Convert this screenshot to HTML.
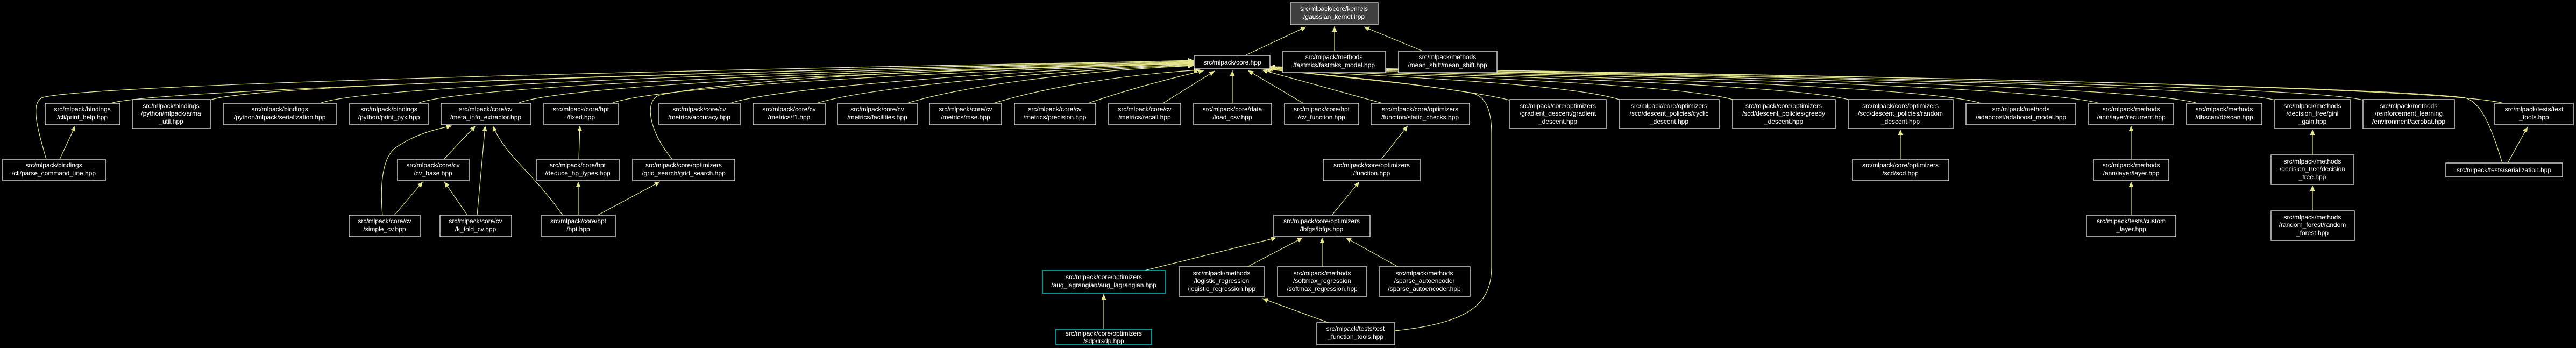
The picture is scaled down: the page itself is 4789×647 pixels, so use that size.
<!DOCTYPE html>
<html><head><meta charset="utf-8"><style>
html,body{margin:0;padding:0;background:#000;}
svg{display:block;}
text{font-family:"Liberation Sans",sans-serif;font-size:12px;fill:#fff;text-anchor:middle;}
.n{fill:#000;stroke:#d0d0d0;stroke-width:1.5;}
.c{fill:#000;stroke:#00c8c8;stroke-width:1.5;}
.g{fill:#404040;stroke:#c8c8c8;stroke-width:1.5;}
.e{fill:none;stroke:#e6e68c;stroke-width:1.2;marker-end:url(#a);}
</style></head><body>
<svg width="4789" height="647" viewBox="0 0 4789 647" xmlns="http://www.w3.org/2000/svg">
<defs><marker id="a" markerUnits="userSpaceOnUse" markerWidth="11" markerHeight="9" refX="10" refY="4.5" orient="auto"><path d="M0,0 L10,4.5 L0,9 z" fill="#e6e68c"/></marker></defs>
<rect width="4789" height="647" fill="#000"/>

<!-- edges -->
<path class="e" d="M2317 102 L2428 50"/>
<path class="e" d="M2481 95 L2481 49"/>
<path class="e" d="M2645 95 L2536 50"/>

<path class="e" d="M206 192 C300 160, 1900 120, 2219 112"/>
<path class="e" d="M391 186 C480 150, 1900 122, 2219 114"/>
<path class="e" d="M595 192 C700 150, 1900 124, 2219 115"/>
<path class="e" d="M777 192 C880 150, 1950 125, 2219 116"/>
<path class="e" d="M963 192 C1060 150, 1950 126, 2219 117"/>
<path class="e" d="M1137 192 C1230 155, 1950 127, 2219 118"/>
<path class="e" d="M86 296 C70 240, 55 190, 80 181 C200 150, 1900 118, 2219 113"/>
<path class="e" d="M1250 296 C1210 250, 1195 190, 1225 177 C1400 140, 1950 122, 2219 119"/>
<path class="e" d="M1357 192 C1450 160, 1950 128, 2219 120"/>
<path class="e" d="M1518 192 C1620 160, 1980 130, 2219 121"/>
<path class="e" d="M1686 192 C1790 160, 2000 132, 2219 122"/>
<path class="e" d="M1847 192 C1950 160, 2100 138, 2230 130"/>
<path class="e" d="M2023 192 C2100 165, 2180 145, 2238 131"/>
<path class="e" d="M2162 192 L2258 132"/>
<path class="e" d="M2291 192 L2291 131"/>
<path class="e" d="M2423 192 L2320 131"/>
<path class="e" d="M2570 192 L2346 130"/>
<path class="e" d="M2806 186 C2700 160, 2450 140, 2352 128"/>
<path class="e" d="M3010 185 C2900 150, 2450 138, 2354 128"/>
<path class="e" d="M3221 185 C3100 150, 2450 136, 2356 127"/>
<path class="e" d="M3436 185 C3300 150, 2450 134, 2357 127"/>
<path class="e" d="M3683 192 C3550 150, 2500 134, 2358 126"/>
<path class="e" d="M3903 192 C3750 150, 2500 132, 2358 126"/>
<path class="e" d="M4085 192 C3950 150, 2500 130, 2359 125"/>
<path class="e" d="M4229 186 C4100 150, 2500 130, 2359 125"/>
<path class="e" d="M4393 186 C4250 150, 2500 130, 2360 125"/>
<path class="e" d="M4654 192 C4500 150, 2500 128, 2360 124"/>
<path class="e" d="M4652 303 C4630 230, 4610 185, 4578 181 C4300 150, 2500 128, 2360 124"/>
<path class="e" d="M2593 615 C2740 600, 2773 560, 2773 495 L2773 250 C2773 200, 2760 178, 2736 173 C2600 150, 2420 135, 2350 128"/>

<path class="e" d="M111 296 L140 234"/>
<path class="e" d="M711 400 C705 330, 715 290, 735 275 C770 250, 810 240, 840 234"/>
<path class="e" d="M733 400 L786 338"/>
<path class="e" d="M869 400 L826 338"/>
<path class="e" d="M887 400 L902 234"/>
<path class="e" d="M1046 400 C990 320, 940 290, 916 234"/>
<path class="e" d="M1075 400 L1075 338"/>
<path class="e" d="M1111 400 L1227 338"/>
<path class="e" d="M1076 296 L1078 234"/>
<path class="e" d="M825 296 L884 234"/>
<path class="e" d="M2568 296 L2617 234"/>
<path class="e" d="M2476 400 L2527 338"/>
<path class="e" d="M2128 503 L2373 442"/>
<path class="e" d="M2319 496 L2422 442"/>
<path class="e" d="M2458 496 L2458 442"/>
<path class="e" d="M2599 496 L2502 442"/>
<path class="e" d="M2052 612 L2052 547"/>
<path class="e" d="M2470 600 L2347 555"/>
<path class="e" d="M3533 296 L3533 241"/>
<path class="e" d="M3962 296 L3962 234"/>
<path class="e" d="M3962 400 L3962 338"/>
<path class="e" d="M4299 288 L4299 241"/>
<path class="e" d="M4299 392 L4299 345"/>
<path class="e" d="M4662 303 L4699 236"/>

<!-- nodes -->
<rect class="g" x="2399" y="5" width="163" height="41"/><text x="2480" y="20">src/mlpack/core/kernels</text><text x="2480" y="35">/gaussian_kernel.hpp</text>
<rect class="n" x="2221" y="103" width="140" height="25"/><text x="2291" y="120">src/mlpack/core.hpp</text>
<rect class="n" x="2385" y="95" width="191" height="40"/><text x="2480" y="110">src/mlpack/methods</text><text x="2480" y="125">/fastmks/fastmks_model.hpp</text>
<rect class="n" x="2600" y="95" width="183" height="40"/><text x="2691" y="110">src/mlpack/methods</text><text x="2691" y="125">/mean_shift/mean_shift.hpp</text>

<rect class="n" x="84" y="192" width="139" height="40"/><text x="153" y="207">src/mlpack/bindings</text><text x="153" y="222">/cli/print_help.hpp</text>
<rect class="n" x="246" y="185" width="145" height="54"/><text x="318" y="201">src/mlpack/bindings</text><text x="318" y="215">/python/mlpack/arma</text><text x="318" y="230">_util.hpp</text>
<rect class="n" x="415" y="192" width="210" height="40"/><text x="520" y="207">src/mlpack/bindings</text><text x="520" y="222">/python/mlpack/serialization.hpp</text>
<rect class="n" x="650" y="192" width="146" height="40"/><text x="723" y="207">src/mlpack/bindings</text><text x="723" y="222">/python/print_pyx.hpp</text>
<rect class="n" x="820" y="192" width="167" height="40"/><text x="903" y="207">src/mlpack/core/cv</text><text x="903" y="222">/meta_info_extractor.hpp</text>
<rect class="n" x="1011" y="192" width="138" height="40"/><text x="1080" y="207">src/mlpack/core/hpt</text><text x="1080" y="222">/fixed.hpp</text>
<rect class="n" x="1225" y="192" width="151" height="40"/><text x="1300" y="207">src/mlpack/core/cv</text><text x="1300" y="222">/metrics/accuracy.hpp</text>
<rect class="n" x="1400" y="192" width="134" height="40"/><text x="1467" y="207">src/mlpack/core/cv</text><text x="1467" y="222">/metrics/f1.hpp</text>
<rect class="n" x="1557" y="192" width="148" height="40"/><text x="1631" y="207">src/mlpack/core/cv</text><text x="1631" y="222">/metrics/facilities.hpp</text>
<rect class="n" x="1728" y="192" width="134" height="40"/><text x="1795" y="207">src/mlpack/core/cv</text><text x="1795" y="222">/metrics/mse.hpp</text>
<rect class="n" x="1886" y="192" width="151" height="40"/><text x="1961" y="207">src/mlpack/core/cv</text><text x="1961" y="222">/metrics/precision.hpp</text>
<rect class="n" x="2061" y="192" width="134" height="40"/><text x="2128" y="207">src/mlpack/core/cv</text><text x="2128" y="222">/metrics/recall.hpp</text>
<rect class="n" x="2219" y="192" width="145" height="40"/><text x="2291" y="207">src/mlpack/core/data</text><text x="2291" y="222">/load_csv.hpp</text>
<rect class="n" x="2388" y="192" width="138" height="40"/><text x="2457" y="207">src/mlpack/core/hpt</text><text x="2457" y="222">/cv_function.hpp</text>
<rect class="n" x="2549" y="192" width="183" height="40"/><text x="2640" y="207">src/mlpack/core/optimizers</text><text x="2640" y="222">/function/static_checks.hpp</text>
<rect class="n" x="2807" y="185" width="179" height="54"/><text x="2896" y="201">src/mlpack/core/optimizers</text><text x="2896" y="215">/gradient_descent/gradient</text><text x="2896" y="230">_descent.hpp</text>
<rect class="n" x="3010" y="185" width="186" height="54"/><text x="3103" y="201">src/mlpack/core/optimizers</text><text x="3103" y="215">/scd/descent_policies/cyclic</text><text x="3103" y="230">_descent.hpp</text>
<rect class="n" x="3221" y="185" width="191" height="54"/><text x="3316" y="201">src/mlpack/core/optimizers</text><text x="3316" y="215">/scd/descent_policies/greedy</text><text x="3316" y="230">_descent.hpp</text>
<rect class="n" x="3436" y="185" width="195" height="54"/><text x="3533" y="201">src/mlpack/core/optimizers</text><text x="3533" y="215">/scd/descent_policies/random</text><text x="3533" y="230">_descent.hpp</text>
<rect class="n" x="3655" y="192" width="204" height="40"/><text x="3757" y="207">src/mlpack/methods</text><text x="3757" y="222">/adaboost/adaboost_model.hpp</text>
<rect class="n" x="3883" y="192" width="158" height="40"/><text x="3962" y="207">src/mlpack/methods</text><text x="3962" y="222">/ann/layer/recurrent.hpp</text>
<rect class="n" x="4065" y="192" width="140" height="40"/><text x="4135" y="207">src/mlpack/methods</text><text x="4135" y="222">/dbscan/dbscan.hpp</text>
<rect class="n" x="4229" y="185" width="140" height="54"/><text x="4299" y="201">src/mlpack/methods</text><text x="4299" y="215">/decision_tree/gini</text><text x="4299" y="230">_gain.hpp</text>
<rect class="n" x="4393" y="185" width="170" height="54"/><text x="4478" y="201">src/mlpack/methods</text><text x="4478" y="215">/reinforcement_learning</text><text x="4478" y="230">/environment/acrobat.hpp</text>
<rect class="n" x="4638" y="192" width="146" height="40"/><text x="4711" y="207">src/mlpack/tests/test</text><text x="4711" y="222">_tools.hpp</text>

<rect class="n" x="5" y="296" width="191" height="40"/><text x="100" y="311">src/mlpack/bindings</text><text x="100" y="326">/cli/parse_command_line.hpp</text>
<rect class="n" x="739" y="296" width="133" height="40"/><text x="805" y="311">src/mlpack/core/cv</text><text x="805" y="326">/cv_base.hpp</text>
<rect class="n" x="998" y="296" width="153" height="40"/><text x="1074" y="311">src/mlpack/core/hpt</text><text x="1074" y="326">/deduce_hp_types.hpp</text>
<rect class="n" x="1176" y="296" width="190" height="40"/><text x="1271" y="311">src/mlpack/core/optimizers</text><text x="1271" y="326">/grid_search/grid_search.hpp</text>
<rect class="n" x="2460" y="296" width="180" height="40"/><text x="2550" y="311">src/mlpack/core/optimizers</text><text x="2550" y="326">/function.hpp</text>
<rect class="n" x="3444" y="296" width="179" height="40"/><text x="3533" y="311">src/mlpack/core/optimizers</text><text x="3533" y="326">/scd/scd.hpp</text>
<rect class="n" x="3892" y="296" width="140" height="40"/><text x="3962" y="311">src/mlpack/methods</text><text x="3962" y="326">/ann/layer/layer.hpp</text>
<rect class="n" x="4222" y="288" width="154" height="55"/><text x="4299" y="304">src/mlpack/methods</text><text x="4299" y="318">/decision_tree/decision</text><text x="4299" y="333">_tree.hpp</text>
<rect class="n" x="4547" y="303" width="217" height="26"/><text x="4655" y="320">src/mlpack/tests/serialization.hpp</text>

<rect class="n" x="649" y="400" width="132" height="40"/><text x="715" y="415">src/mlpack/core/cv</text><text x="715" y="430">/simple_cv.hpp</text>
<rect class="n" x="818" y="400" width="133" height="40"/><text x="884" y="415">src/mlpack/core/cv</text><text x="884" y="430">/k_fold_cv.hpp</text>
<rect class="n" x="1007" y="400" width="137" height="40"/><text x="1075" y="415">src/mlpack/core/hpt</text><text x="1075" y="430">/hpt.hpp</text>
<rect class="n" x="2368" y="400" width="179" height="40"/><text x="2457" y="415">src/mlpack/core/optimizers</text><text x="2457" y="430">/lbfgs/lbfgs.hpp</text>
<rect class="n" x="3879" y="400" width="166" height="40"/><text x="3962" y="415">src/mlpack/tests/custom</text><text x="3962" y="430">_layer.hpp</text>
<rect class="n" x="4222" y="392" width="155" height="55"/><text x="4299" y="408">src/mlpack/methods</text><text x="4299" y="422">/random_forest/random</text><text x="4299" y="437">_forest.hpp</text>

<rect class="c" x="1938" y="503" width="229" height="42"/><text x="2052" y="519">src/mlpack/core/optimizers</text><text x="2052" y="534">/aug_lagrangian/aug_lagrangian.hpp</text>
<rect class="n" x="2192" y="496" width="159" height="55"/><text x="2271" y="512">src/mlpack/methods</text><text x="2271" y="526">/logistic_regression</text><text x="2271" y="541">/logistic_regression.hpp</text>
<rect class="n" x="2375" y="496" width="166" height="55"/><text x="2458" y="512">src/mlpack/methods</text><text x="2458" y="526">/softmax_regression</text><text x="2458" y="541">/softmax_regression.hpp</text>
<rect class="n" x="2564" y="496" width="169" height="55"/><text x="2648" y="512">src/mlpack/methods</text><text x="2648" y="526">/sparse_autoencoder</text><text x="2648" y="541">/sparse_autoencoder.hpp</text>

<rect class="c" x="1963" y="612" width="178" height="29"/><text x="2052" y="624">src/mlpack/core/optimizers</text><text x="2052" y="638">/sdp/lrsdp.hpp</text>
<rect class="n" x="2448" y="600" width="145" height="41"/><text x="2520" y="615">src/mlpack/tests/test</text><text x="2520" y="630">_function_tools.hpp</text>
</svg>
</body></html>
